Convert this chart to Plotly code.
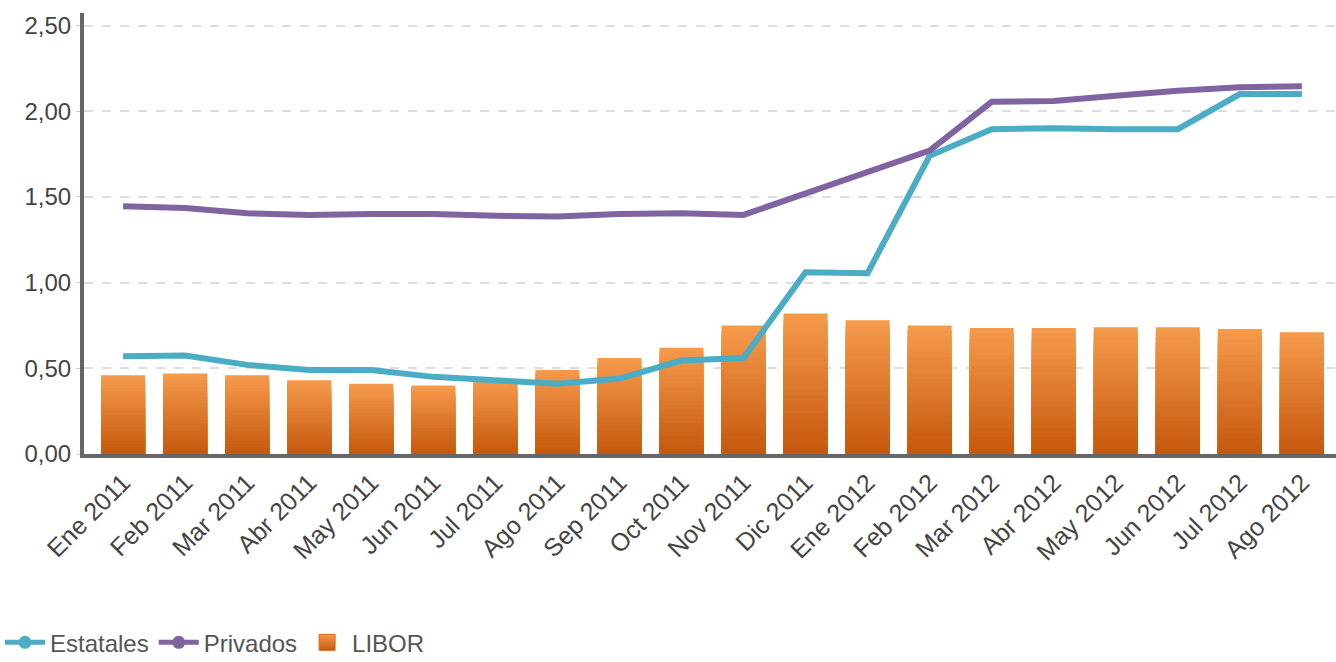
import plotly.graph_objects as go

meses = ["Ene 2011", "Feb 2011", "Mar 2011", "Abr 2011", "May 2011", "Jun 2011",
         "Jul 2011", "Ago 2011", "Sep 2011", "Oct 2011", "Nov 2011", "Dic 2011",
         "Ene 2012", "Feb 2012", "Mar 2012", "Abr 2012", "May 2012", "Jun 2012",
         "Jul 2012", "Ago 2012"]

libor = [0.46, 0.47, 0.46, 0.43, 0.41, 0.40, 0.43, 0.49, 0.56, 0.62, 0.75, 0.82,
         0.78, 0.75, 0.735, 0.735, 0.74, 0.74, 0.73, 0.71]

estatales = [0.57, 0.575, 0.52, 0.49, 0.49, 0.45, 0.43, 0.41, 0.44, 0.545, 0.56, 1.06,
             1.055, 1.74, 1.895, 1.90, 1.895, 1.895, 2.10, 2.10]

privados = [1.445, 1.435, 1.405, 1.395, 1.40, 1.40, 1.39, 1.385, 1.40, 1.405, 1.395, 1.52,
            1.645, 1.77, 2.055, 2.06, 2.09, 2.12, 2.14, 2.145]

y_ticks = [0, 0.5, 1.0, 1.5, 2.0, 2.5]

C_EST = "#4BACC6"
C_PRIV = "#8064A2"
C_TOP = (245, 153, 75)
C_BOT = (198, 89, 14)

fig = go.Figure()

# Orange bars with a vertical gradient: overlaid layers, each shorter and darker
N = 24
for k in range(N):
    t = k / (N - 1)
    r = round(C_TOP[0] + (C_BOT[0] - C_TOP[0]) * t)
    g = round(C_TOP[1] + (C_BOT[1] - C_TOP[1]) * t)
    b = round(C_TOP[2] + (C_BOT[2] - C_TOP[2]) * t)
    frac = 1 - k / N
    fig.add_trace(go.Bar(
        x=meses, y=[v * frac for v in libor],
        marker=dict(color=f"rgb({r},{g},{b})", line=dict(width=0)),
        width=0.71, showlegend=False, hoverinfo="skip" if k else "y",
        name="LIBOR",
    ))

fig.add_trace(go.Scatter(x=meses, y=estatales, mode="lines", name="Estatales",
                         line=dict(color=C_EST, width=6), showlegend=False))
fig.add_trace(go.Scatter(x=meses, y=privados, mode="lines", name="Privados",
                         line=dict(color=C_PRIV, width=6), showlegend=False))

# Legend entries
fig.add_trace(go.Scatter(x=[None], y=[None], mode="lines+markers", name="Estatales",
                         line=dict(color=C_EST, width=5),
                         marker=dict(color=C_EST, size=13)))
fig.add_trace(go.Scatter(x=[None], y=[None], mode="lines+markers", name="Privados",
                         line=dict(color=C_PRIV, width=5),
                         marker=dict(color=C_PRIV, size=13)))
fig.add_trace(go.Scatter(x=[None], y=[None], mode="markers", name="LIBOR",
                         marker=dict(symbol="square", size=24,
                                     color="rgb(245,153,75)",
                                     gradient=dict(type="vertical", color="rgb(198,89,14)"),
                                     line=dict(color="rgb(215,105,30)", width=1))))

fig.update_layout(
    width=1336, height=662,
    margin=dict(l=84, r=0, t=13, b=208, autoexpand=False),
    paper_bgcolor="white", plot_bgcolor="white",
    barmode="overlay",
    separators=",.",
    font=dict(family="Liberation Sans, Arial, sans-serif", size=24, color="#444444"),
    xaxis=dict(
        type="category", range=[-0.63, 19.55],
        tickangle=-45, showgrid=False, ticks="",
        showline=True, linecolor="#666666", linewidth=4,
        tickfont=dict(size=25, color="#444444"),
    ),
    yaxis=dict(
        range=[0, 2.573], tickvals=y_ticks, tickformat=".2f",
        showgrid=True, gridcolor="#dddddd", griddash="dash", gridwidth=1.5,
        zeroline=False, showline=True, linecolor="#666666", linewidth=4,
        ticks="outside", ticklen=4, tickcolor="#cccccc",
        tickfont=dict(size=24, color="#444444"),
    ),
    legend=dict(
        orientation="h", xref="container", x=0.0, xanchor="left",
        y=-0.428, yanchor="middle",
        font=dict(size=24, color="#555555"), itemwidth=40,
        traceorder="normal",
    ),
    hovermode="x",
)

fig.write_html("out.html")
